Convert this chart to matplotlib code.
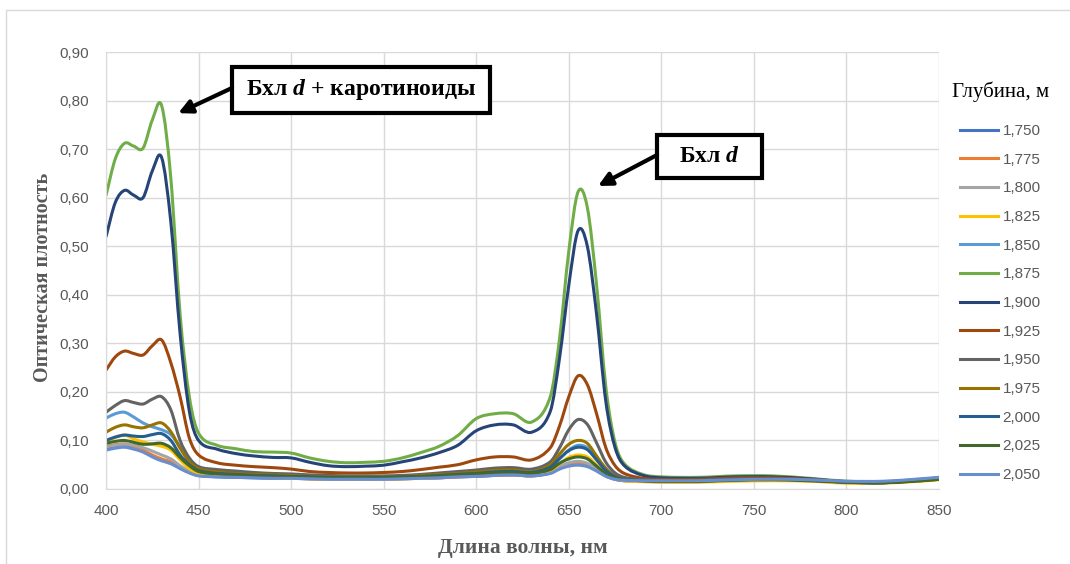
import matplotlib
matplotlib.use("Agg")
import matplotlib.pyplot as plt
from matplotlib.lines import Line2D
from matplotlib.patches import PathPatch, Rectangle
from matplotlib.path import Path
from matplotlib.ticker import FuncFormatter, MultipleLocator

plt.rcParams["font.family"] = ["Liberation Sans", "DejaVu Sans"]
plt.rcParams["mathtext.fontset"] = "custom"
plt.rcParams["mathtext.rm"] = "Liberation Serif:bold"
plt.rcParams["mathtext.it"] = "Liberation Serif:italic:bold"

# wavelengths, nm
wl = [400, 405, 410, 415, 420, 425, 430, 435, 440, 445, 450, 460, 470, 480, 490, 500,
      510, 520, 530, 540, 550, 560, 570, 580, 590, 600, 610, 620, 630, 640, 645, 650,
      655, 660, 665, 670, 675, 680, 690, 700, 720, 740, 760, 780, 800, 820, 840, 850]

depths = ["1,750", "1,775", "1,800", "1,825", "1,850", "1,875", "1,900",
          "1,925", "1,950", "1,975", "2,000", "2,025", "2,050"]
colors = ["#4472C4", "#ED7D31", "#A5A5A5", "#FFC000", "#5B9BD5", "#70AD47", "#264478",
          "#9E480E", "#636363", "#997300", "#255E91", "#43682B", "#698ED0"]

d1750 = [.083, .087, .088, .084, .078, .068, .060, .054, .043, .034, .028, .025, .024, .023, .022, .022,
         .021, .020, .020, .020, .020, .021, .022, .023, .025, .026, .028, .029, .027, .033, .043, .050,
         .052, .049, .039, .027, .020, .017, .016, .015, .015, .018, .019, .018, .014, .014, .019, .023]
d1775 = [.088, .091, .093, .088, .080, .070, .062, .056, .045, .035, .029, .026, .025, .024, .023, .022,
         .021, .020, .020, .020, .020, .021, .022, .023, .025, .026, .028, .029, .027, .033, .042, .049,
         .051, .048, .038, .027, .020, .017, .016, .015, .015, .018, .018, .017, .013, .013, .017, .020]
d1800 = [.087, .090, .092, .090, .085, .078, .070, .062, .048, .037, .030, .027, .026, .025, .024, .023,
         .022, .021, .021, .021, .021, .022, .023, .024, .026, .027, .029, .030, .028, .035, .046, .054,
         .057, .053, .041, .029, .021, .018, .016, .015, .015, .018, .018, .017, .013, .013, .017, .021]
d1825 = [.097, .106, .111, .103, .097, .092, .088, .080, .060, .042, .032, .028, .026, .024, .023, .022,
         .021, .020, .020, .020, .020, .021, .022, .024, .026, .028, .030, .031, .029, .037, .052, .065,
         .070, .066, .050, .033, .022, .017, .015, .014, .014, .016, .017, .016, .012, .012, .016, .019]
d1850 = [.146, .155, .158, .148, .136, .128, .122, .112, .087, .060, .045, .036, .033, .031, .029, .028,
         .026, .025, .024, .024, .024, .025, .026, .028, .030, .032, .035, .036, .034, .045, .062, .080,
         .090, .085, .065, .042, .027, .021, .018, .017, .017, .019, .020, .018, .014, .013, .018, .022]
d1875 = [.605, .680, .712, .706, .702, .760, .790, .640, .360, .190, .115, .090, .083, .077, .076, .074,
         .064, .057, .054, .055, .057, .064, .075, .088, .110, .145, .155, .155, .138, .190, .310, .490,
         .612, .580, .420, .210, .095, .052, .030, .025, .024, .027, .027, .022, .016, .015, .020, .023]
d1900 = [.520, .590, .615, .605, .600, .655, .683, .550, .320, .160, .100, .082, .073, .068, .065, .064,
         .055, .048, .046, .047, .049, .056, .064, .075, .090, .120, .132, .132, .117, .160, .270, .420,
         .532, .500, .360, .180, .085, .048, .028, .023, .022, .025, .025, .021, .015, .014, .019, .022]
d1925 = [.245, .272, .284, .279, .276, .295, .307, .260, .190, .105, .070, .054, .049, .046, .044, .041,
         .036, .034, .033, .033, .034, .036, .040, .045, .050, .060, .066, .066, .060, .085, .130, .190,
         .233, .215, .155, .085, .048, .032, .022, .020, .020, .023, .023, .020, .015, .014, .018, .021]
d1950 = [.158, .172, .182, .178, .175, .185, .190, .163, .100, .064, .046, .040, .037, .034, .032, .031,
         .029, .028, .027, .027, .027, .028, .030, .033, .036, .039, .043, .044, .041, .056, .085, .122,
         .143, .133, .095, .055, .033, .024, .019, .018, .018, .021, .021, .019, .014, .013, .018, .021]
d1975 = [.117, .127, .132, .128, .126, .132, .136, .118, .084, .056, .042, .035, .032, .030, .029, .028,
         .026, .025, .025, .025, .025, .026, .028, .030, .032, .035, .038, .039, .036, .050, .072, .092,
         .100, .094, .068, .042, .026, .020, .017, .016, .016, .019, .020, .018, .014, .013, .017, .020]
d2000 = [.100, .107, .111, .109, .108, .112, .114, .100, .070, .050, .038, .032, .030, .028, .027, .026,
         .025, .024, .024, .024, .024, .025, .026, .028, .030, .032, .035, .036, .034, .045, .063, .079,
         .086, .081, .060, .038, .025, .020, .017, .016, .016, .019, .020, .018, .014, .013, .018, .022]
d2025 = [.094, .098, .100, .096, .092, .093, .094, .085, .065, .048, .036, .031, .029, .027, .026, .025,
         .024, .023, .023, .023, .023, .024, .025, .027, .029, .031, .033, .034, .032, .040, .053, .062,
         .066, .062, .047, .032, .023, .019, .017, .016, .016, .018, .019, .017, .014, .013, .017, .020]
d2050 = [.080, .084, .086, .082, .076, .066, .058, .052, .042, .033, .027, .025, .024, .023, .022, .022,
         .021, .020, .020, .020, .020, .021, .022, .023, .025, .026, .028, .029, .027, .032, .041, .047,
         .049, .046, .037, .026, .020, .018, .017, .017, .017, .019, .020, .019, .016, .016, .021, .024]

series = [d1750, d1775, d1800, d1825, d1850, d1875, d1900,
          d1925, d1950, d1975, d2000, d2025, d2050]


def smooth_path(xs, ys):
    """Bezier path through the points (Excel-style smoothed line)."""
    n = len(xs)
    slopes = []
    for i in range(n):
        a, b = max(i - 1, 0), min(i + 1, n - 1)
        slopes.append((ys[b] - ys[a]) / (xs[b] - xs[a]))
    verts, codes = [(xs[0], ys[0])], [Path.MOVETO]
    for i in range(n - 1):
        h = (xs[i + 1] - xs[i]) / 3
        verts += [(xs[i] + h, ys[i] + slopes[i] * h),
                  (xs[i + 1] - h, ys[i + 1] - slopes[i + 1] * h),
                  (xs[i + 1], ys[i + 1])]
        codes += [Path.CURVE4] * 3
    return Path(verts, codes)


fig = plt.figure(figsize=(10.7, 5.64), dpi=100)
ax = fig.add_axes([0.0991, 0.133, 0.7785, 0.7748])

handles = []
for lab, col, ys in zip(depths, colors, series):
    ax.add_patch(PathPatch(smooth_path(wl, ys), fill=False, ec=col, lw=2.2,
                           joinstyle="round", capstyle="round"))
    handles.append(Line2D([], [], color=col, lw=2.2, label=lab))

ax.set_xlim(400, 850)
ax.set_ylim(0, 0.9)
ax.xaxis.set_major_locator(MultipleLocator(50))
ax.yaxis.set_major_locator(MultipleLocator(0.1))
ax.yaxis.set_major_formatter(FuncFormatter(lambda v, p: f"{v:.2f}".replace(".", ",")))
ax.grid(True, color="#d9d9d9", lw=1)
ax.set_axisbelow(True)
for s in ["top", "right"]:
    ax.spines[s].set_visible(False)
for s in ["left", "bottom"]:
    ax.spines[s].set_color("#d9d9d9")
ax.tick_params(length=0, labelsize=11, labelcolor="#595959")
ax.tick_params(axis="y", pad=12)
ax.tick_params(axis="x", pad=11)

ax.set_xlabel("Длина волны, нм", family="Liberation Serif", weight="bold",
              fontsize=15.5, color="#595959", labelpad=14)
ax.set_ylabel("Оптическая плотность", family="Liberation Serif", weight="bold",
              fontsize=14.5, color="#595959")
ax.yaxis.set_label_coords(-0.064, 0.485)

# annotation boxes (positions in data units)
ax.add_patch(Rectangle((468.1, 0.774), 139.3, 0.095, fc="white", ec="black", lw=3, zorder=5))
ax.text(537.8, 0.822, r"Бхл $d$ + каротиноиды", family="Liberation Serif",
        weight="bold", fontsize=17, ha="center", va="center", zorder=6)
ax.add_patch(Rectangle((697.7, 0.640), 56.4, 0.089, fc="white", ec="black", lw=3, zorder=5))
ax.text(725.9, 0.685, r"Бхл $d$", family="Liberation Serif",
        weight="bold", fontsize=17, ha="center", va="center", zorder=6)
arrow = dict(arrowstyle="-|>", lw=3, color="black", mutation_scale=20, shrinkA=0, shrinkB=0)
ax.annotate("", xy=(439.0, 0.774), xytext=(468.1, 0.826), arrowprops=arrow, zorder=6)
ax.annotate("", xy=(665.8, 0.624), xytext=(697.7, 0.688), arrowprops=arrow, zorder=6)

leg = fig.legend(handles=handles, loc="upper left", bbox_to_anchor=(0.8895, 0.856),
                 frameon=False, title="Глубина, м", fontsize=11, labelcolor="#595959",
                 borderpad=0, borderaxespad=0, handlelength=2.5, handletextpad=0.3,
                 labelspacing=0.96)
leg.get_title().set_family("Liberation Serif")
leg.get_title().set_fontsize(15)
leg._legend_box.sep = 16

fig.add_artist(Rectangle((6 / 1070, -0.5), 2, 1.5 - 10 / 564, transform=fig.transFigure,
                         fill=False, ec="#d9d9d9", lw=1))

fig.savefig("out.png", dpi=100)
